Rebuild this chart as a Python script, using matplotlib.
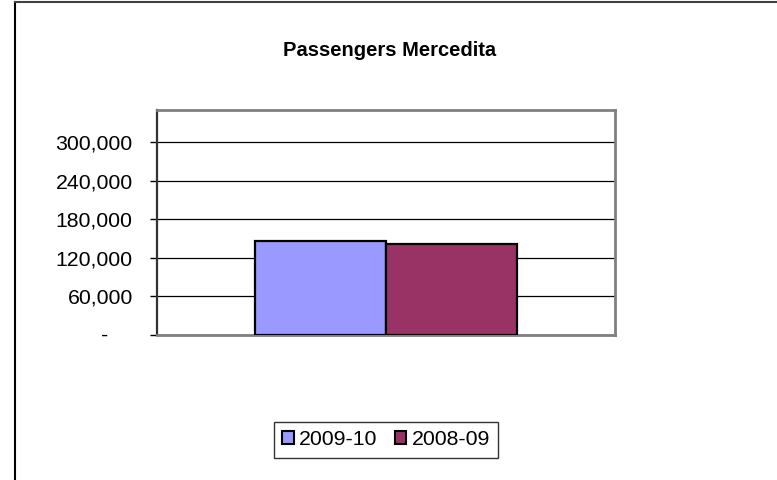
import matplotlib
matplotlib.use("Agg")
import matplotlib.pyplot as plt
import matplotlib.transforms as mtransforms
from matplotlib.lines import Line2D
from matplotlib.patches import Patch
from matplotlib.ticker import FuncFormatter

# data
title = "Passengers Mercedita"
series_names = ["2009-10", "2008-09"]
series_values = [146700, 141500]
series_colors = ["#9999FF", "#993366"]
y_ticks = [0, 60000, 120000, 180000, 240000, 300000]
y_max = 350000

plt.rcParams['font.family'] = ['Liberation Sans', 'DejaVu Sans']

fig = plt.figure(figsize=(7.77, 4.8), dpi=100)
ax = fig.add_axes([157 / 777, 1 - 335 / 480, 458 / 777, 225 / 480])

# bars side by side in one category
bar_w = 0.287
offsets = [-bar_w / 2, bar_w / 2]
for name, val, col, off in zip(series_names, series_values, series_colors, offsets):
    ax.bar(off, val, width=bar_w, color=col, edgecolor="black", linewidth=1.6,
           label=name, zorder=3)

ax.set_xlim(-0.5, 0.5)
ax.set_ylim(0, y_max)
ax.set_xticks([])
ax.set_yticks(y_ticks)
ax.yaxis.set_major_formatter(FuncFormatter(lambda v, p: "" if v == 0 else "{:,.0f}".format(v)))
ax.tick_params(axis="y", length=5, width=1, color="black", pad=12.5, labelsize=15.3)
ax.grid(axis="y", color="black", linewidth=0.9, zorder=1)

for side in ["top", "right", "bottom"]:
    ax.spines[side].set_color("#808080")
    ax.spines[side].set_linewidth(2)
ax.spines["left"].set_color("#333333")
ax.spines["left"].set_linewidth(1.6)

# zero label shown as a dash (accounting style)
trans = mtransforms.blended_transform_factory(ax.transAxes, ax.transData)
ax.text(-0.107, 0, "-", transform=trans, ha="right", va="center", fontsize=15.3)

fig.text(0.502, 1 - 50 / 480, title, ha="center", va="center", fontsize=14.5, fontweight="bold")

handles = [Patch(facecolor=c, edgecolor="black", linewidth=1.5) for c in series_colors]
leg = fig.legend(handles, series_names, loc="center", bbox_to_anchor=(386 / 777, 1 - 439.5 / 480),
                 ncol=2, fontsize=15.3, frameon=True, fancybox=False, edgecolor="black",
                 handlelength=0.55, handleheight=0.55, handletextpad=0.25, columnspacing=0.8,
                 borderpad=0.4, borderaxespad=0)
leg.get_frame().set_linewidth(1)

# chart area border (left and top visible)
fig.add_artist(Line2D([15 / 777, 15 / 777], [0, 1 - 2 / 480], color="black", linewidth=1.5,
                      transform=fig.transFigure))
fig.add_artist(Line2D([15 / 777, 1], [1 - 2 / 480, 1 - 2 / 480], color="#404040", linewidth=1.5,
                      transform=fig.transFigure))

fig.savefig("out.png", dpi=100)
